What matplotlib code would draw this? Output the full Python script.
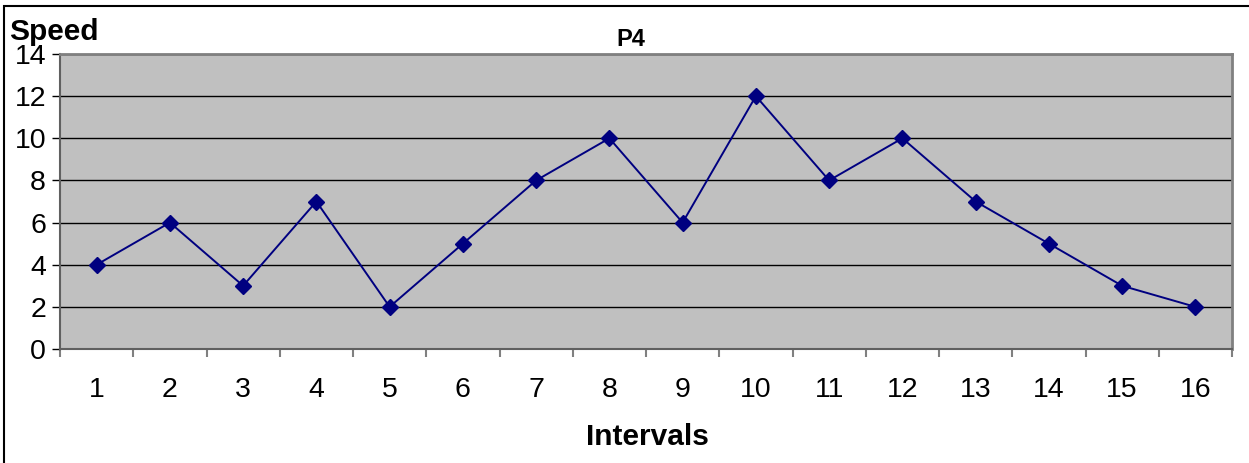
import matplotlib.pyplot as plt
from matplotlib.patches import Rectangle

intervals = list(range(1, 17))
speed = [4, 6, 3, 7, 2, 5, 8, 10, 6, 12, 8, 10, 7, 5, 3, 2]
y_ticks = [0, 2, 4, 6, 8, 10, 12, 14]

plt.rcParams['font.family'] = ['Liberation Sans', 'DejaVu Sans']

W, H = 1249, 463
fig = plt.figure(figsize=(W / 100, H / 100), dpi=100)
ax = fig.add_axes([60 / W, 1 - 349 / H, (1232 - 60) / W, (349 - 54) / H])
ax.set_facecolor('#c0c0c0')

ax.plot(intervals, speed, color='#000080', lw=1.4, marker='D', markersize=8,
        markerfacecolor='#000080', markeredgecolor='#000080', zorder=3)

ax.set_xlim(0.5, 16.5)
ax.set_ylim(0, 14)
ax.set_yticks(y_ticks)
ax.set_yticklabels([str(v) for v in y_ticks], fontsize=20.5)
ax.yaxis.grid(True, color='black', lw=1.0)
ax.set_axisbelow(True)

ax.set_xticks(intervals)
ax.set_xticklabels([str(i) for i in intervals], fontsize=20.5)
ax.set_xticks([i + 0.5 for i in range(0, 17)], minor=True)
ax.tick_params(axis='x', which='major', length=0, pad=20)
ax.tick_params(axis='x', which='minor', length=6, color='#808080', width=1.5)
ax.tick_params(axis='y', length=6, color='black', width=1, pad=4)

for side in ['top', 'right']:
    ax.spines[side].set_color('#808080')
    ax.spines[side].set_linewidth(2)
ax.spines['left'].set_color('#606060')
ax.spines['left'].set_linewidth(1.5)
ax.spines['bottom'].set_color('#606060')
ax.spines['bottom'].set_linewidth(1.5)

fig.text(631 / W, 1 - 39 / H, 'P4', fontsize=17, fontweight='bold', ha='center', va='center')
fig.text(9 / W, 1 - 32 / H, 'Speed', fontsize=21.5, fontweight='bold', ha='left', va='center')
fig.text(647 / W, 1 - 437 / H, 'Intervals', fontsize=21.5, fontweight='bold', ha='center', va='center')

fig.patches.append(Rectangle((4 / W, -0.1), 1.2, 1.1 - 6 / H, transform=fig.transFigure,
                             fill=False, edgecolor='black', lw=1.5))

plt.savefig('out.png', dpi=100)
plt.close()
